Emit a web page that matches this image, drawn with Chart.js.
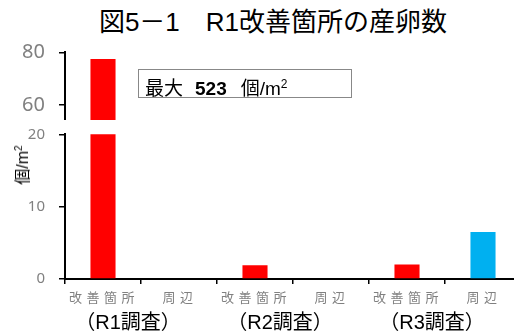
<!DOCTYPE html>
<html lang="ja">
<head>
<meta charset="UTF-8">
<title>図5－1 R1改善箇所の産卵数</title>
<script src="https://cdn.jsdelivr.net/npm/chart.js"></script>
<style>
    body {
        margin: 0;
        width: 514px;
        height: 336px;
        overflow: hidden;
        background: #fff;
        position: relative;
        font-family: "Liberation Sans", "Noto Sans CJK JP", sans-serif;
    }
    #title {
        position: absolute;
        left: 0;
        width: 546px;
        top: 6px;
        text-align: center;
        font-size: 26px;
        line-height: 32px;
        color: #000;
    }
    #top-box {
        position: absolute; left: 0; top: 38px; width: 530px; height: 82px;
    }
    #bottom-box {
        position: absolute; left: 0; top: 120px; width: 530px; height: 216px;
    }
    #note {
        position: absolute;
        left: 138px; top: 69px; width: 214px; height: 29px;
        border: 1px solid #888;
        font-size: 19px;
        line-height: 28px;
        padding-left: 6px;
        box-sizing: border-box;
        white-space: nowrap;
    }
    #note b { margin: 0 14px 0 12px; }
    #ylabel {
        position: absolute;
        left: 21px; top: 165px;
        transform: translate(-50%, -50%) rotate(-90deg);
        font-size: 16px;
        white-space: nowrap;
    }
</style>
</head>
<body>
<div id="title">図5－1　R1改善箇所の産卵数</div>
<div id="top-box"><canvas id="topChart"></canvas></div>
<div id="bottom-box"><canvas id="bottomChart"></canvas></div>
<div id="note">最大<b>523</b>個/m<sup style="font-size:12px">2</sup></div>
<div id="ylabel">個/m<sup style="font-size:10px">2</sup></div>

<script>
    const categories = ['改善箇所', '周辺', '改善箇所', '周辺', '改善箇所', '周辺'];
    const surveys = ['（R1調査）', '（R2調査）', '（R3調査）'];
    const eggCounts = [77.5, 0.1, 1.9, 0, 2.0, 6.5];
    const topTicks = [60, 80];
    const bottomTicks = [0, 10, 20];

    const barColors = ['#ff0000', '#ff0000', '#ff0000', '#ff0000', '#ff0000', '#00b0f0'];
    const gray = '#808080';

    function dataset() {
        return [{
            data: eggCounts,
            backgroundColor: barColors,
            barPercentage: 0.33,
            categoryPercentage: 1
        }];
    }

    function yAxis(min, max, ticks, fontSize) {
        return {
            min: min,
            max: max,
            afterBuildTicks: s => { s.ticks = ticks.map(v => ({ value: v })); },
            afterFit: s => {
                s.width = 65;
                s.paddingTop = 0;
                s.paddingBottom = 0;
            },
            border: { color: '#000', width: 2 },
            grid: { drawOnChartArea: false, tickLength: 6, color: '#000', lineWidth: 1.5 },
            ticks: { color: gray, font: { size: fontSize, family: 'Noto Sans' }, padding: 14 }
        };
    }

    new Chart(document.getElementById('topChart'), {
        type: 'bar',
        data: { labels: categories, datasets: dataset() },
        options: {
            responsive: true,
            maintainAspectRatio: false,
            animation: false,
            layout: { padding: { top: 14.3, right: 9, bottom: 0 } },
            plugins: { legend: { display: false }, tooltip: { enabled: false } },
            scales: {
                x: { display: false },
                y: yAxis(54.3, 80, topTicks, 20)
            }
        }
    });

    // category and survey labels under the lower axis
    const labelPlugin = {
        id: 'labels',
        afterDraw(chart) {
            const ctx = chart.ctx;
            const x = chart.scales.x;
            const bottom = chart.chartArea.bottom;
            ctx.save();
            ctx.textAlign = 'center';
            ctx.textBaseline = 'middle';
            ctx.fillStyle = gray;
            ctx.font = '13px "Noto Sans CJK JP"';
            ctx.letterSpacing = '4.5px';
            categories.forEach((c, i) => {
                ctx.fillText(c, x.getPixelForValue(i) + 1, bottom + 18);
            });
            ctx.letterSpacing = '0px';
            ctx.fillStyle = '#000';
            ctx.font = '20px "Liberation Sans", "Noto Sans CJK JP"';
            surveys.forEach((s, i) => {
                const mid = (x.getPixelForValue(2 * i) + x.getPixelForValue(2 * i + 1)) / 2;
                ctx.fillText(s, mid - 13, bottom + 44);
            });
            ctx.restore();
        }
    };

    new Chart(document.getElementById('bottomChart'), {
        type: 'bar',
        data: { labels: categories, datasets: dataset() },
        options: {
            responsive: true,
            maintainAspectRatio: false,
            animation: false,
            layout: { padding: { top: 14.3, right: 9, bottom: 0 } },
            plugins: { legend: { display: false }, tooltip: { enabled: false } },
            scales: {
                x: {
                    afterFit: s => { s.height = 57; },
                    border: { color: '#000', width: 2 },
                    grid: { drawOnChartArea: false, tickLength: 5, color: '#000', lineWidth: 1.5 },
                    ticks: { display: false }
                },
                y: yAxis(0, 20, bottomTicks, 15)
            }
        },
        plugins: [labelPlugin]
    });
</script>
</body>
</html>
